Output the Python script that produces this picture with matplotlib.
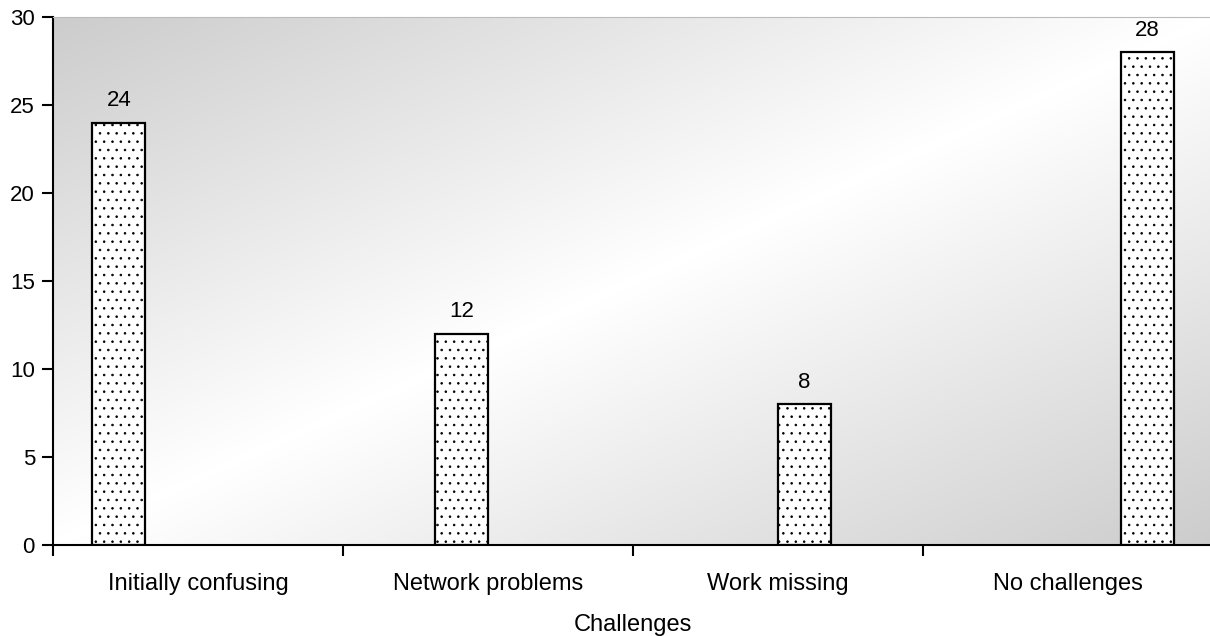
import numpy as np
import matplotlib.pyplot as plt

plt.rcParams['font.family'] = ['Liberation Sans', 'DejaVu Sans']
plt.rcParams['hatch.linewidth'] = 0.6
plt.rcParams['hatch.color'] = '#333333'

categories = ['Initially confusing', 'Network problems', 'Work missing', 'No challenges']
values = [24, 12, 8, 28]

fig = plt.figure(figsize=(12.1, 6.36), dpi=100)
ax = fig.add_axes([0.0438, 0.143, 0.9587, 0.830])

# gradient background: grey at top-left and bottom-right, white in the middle
gx, gy = np.meshgrid(np.linspace(0, 1, 400), np.linspace(0, 1, 200))
t = (gx + gy) / 2
shade = 1.0 - 0.2 * np.abs(t - 0.5) * 2
ax.imshow(shade, cmap='gray', vmin=0, vmax=1, extent=[-0.5, 3.5, 0, 30],
          origin='upper', aspect='auto', zorder=0, interpolation='bicubic')

n = len(categories)
w = 0.182
x = np.arange(n)
for i, v in enumerate(values):
    xpos = x[i] + (i - (n - 1) / 2) * w
    ax.bar(xpos, v, width=w, color='white', edgecolor='black', hatch='..',
           linewidth=1.6, zorder=2)
    ax.annotate(str(v), (xpos, v), xytext=(0, 12), textcoords='offset points',
                ha='center', va='baseline', fontsize=16)

ax.set_xlim(-0.5, n - 0.5)
ax.set_ylim(0, 30)
ax.set_yticks(np.arange(0, 31, 5))
ax.set_xticks(x)
ax.set_xticklabels(categories, fontsize=17)
ax.set_xticks(np.arange(n + 1) - 0.5, minor=True)
ax.tick_params(axis='x', which='major', length=0, pad=20)
ax.tick_params(axis='x', which='minor', length=8, width=1.5, direction='out')
ax.tick_params(axis='y', labelsize=16, length=8, width=1.5, direction='out', pad=5)
ax.set_xlabel('Challenges', fontsize=17, labelpad=14)

ax.spines['right'].set_visible(False)
ax.spines['top'].set_color('#bbbbbb')
ax.spines['left'].set_linewidth(1.5)
ax.spines['bottom'].set_linewidth(1.5)

fig.savefig('out.png', dpi=100)
